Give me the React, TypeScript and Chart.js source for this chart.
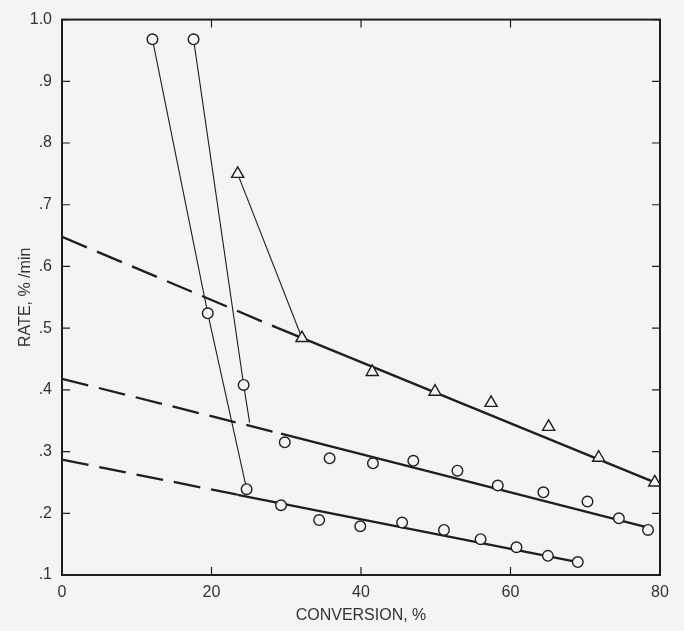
import React, { useEffect, useRef } from "react";
import { Chart, registerables } from "chart.js";

Chart.register(...registerables);

// Triangle series
const triX = [23.5, 32.1, 41.5, 49.9, 57.4, 65.1, 71.8, 79.3];
const triY = [0.75, 0.484, 0.429, 0.397, 0.379, 0.34, 0.29, 0.25];
// Middle circle series
const midX = [17.6, 24.3, 29.8, 35.8, 41.6, 47.0, 52.9, 58.3, 64.4, 70.3, 74.5, 78.4];
const midY = [0.968, 0.408, 0.315, 0.289, 0.281, 0.285, 0.269, 0.245, 0.234, 0.219, 0.192, 0.173];
// Lower circle series
const lowX = [12.1, 19.5, 24.7, 29.3, 34.4, 39.9, 45.5, 51.1, 56.0, 60.8, 65.0, 69.0];
const lowY = [0.968, 0.524, 0.239, 0.213, 0.189, 0.179, 0.185, 0.173, 0.158, 0.145, 0.131, 0.121];

// Fitted lines: [start, dash->solid break, end]
const topFitX = [0, 28.9, 79.3];
const topFitY = [0.648, 0.5, 0.25];
const midFitX = [0, 29.3, 78.3];
const midFitY = [0.418, 0.329, 0.177];
const lowFitX = [0, 23.5, 69.0];
const lowFitY = [0.287, 0.23, 0.121];

// Thin connectors (initial transients)
const triConnX = [23.5, 32.1];
const triConnY = [0.75, 0.484];
const midConnX = [17.6, 24.3, 25.1];
const midConnY = [0.968, 0.408, 0.347];
const lowConnX = [12.1, 19.5, 24.7];
const lowConnY = [0.968, 0.524, 0.239];

const xTicks = [0, 20, 40, 60, 80];
const yTicks = [0.1, 0.2, 0.3, 0.4, 0.5, 0.6, 0.7, 0.8, 0.9, 1.0];

const BG = "#f4f4f4";
const INK = "#1e1e1e";
const FONT = "'Liberation Sans', Arial, sans-serif";

const pts = (xs: number[], ys: number[]) => xs.map((x, i) => ({ x, y: ys[i] }));

const framePlugin = {
  id: "frame",
  afterDraw(chart: any) {
    const { ctx, chartArea: a, scales } = chart;
    ctx.save();
    ctx.strokeStyle = INK;
    ctx.lineWidth = 2;
    ctx.strokeRect(a.left, a.top, a.right - a.left, a.bottom - a.top);
    ctx.lineWidth = 1.2;
    const L = 8;
    ctx.beginPath();
    yTicks.forEach((v) => {
      const y = scales.y.getPixelForValue(v);
      ctx.moveTo(a.left, y);
      ctx.lineTo(a.left + L, y);
      ctx.moveTo(a.right, y);
      ctx.lineTo(a.right - L, y);
    });
    xTicks.forEach((v) => {
      const x = scales.x.getPixelForValue(v);
      ctx.moveTo(x, a.bottom);
      ctx.lineTo(x, a.bottom - L);
      ctx.moveTo(x, a.top);
      ctx.lineTo(x, a.top + L);
    });
    ctx.stroke();
    ctx.restore();
  },
};

export default function App() {
  const ref = useRef<HTMLCanvasElement>(null);
  useEffect(() => {
    if (!ref.current) return;
    const fitLine = (xs: number[], ys: number[]) => ({
      type: "line" as const,
      data: pts(xs, ys),
      borderColor: INK,
      borderWidth: 2.3,
      pointRadius: 0,
      showLine: true,
      order: 2,
      segment: {
        borderDash: (c: any) => (c.p0DataIndex === 0 ? [27, 11] : undefined),
      },
    });
    const thin = (xs: number[], ys: number[]) => ({
      type: "line" as const,
      data: pts(xs, ys),
      borderColor: INK,
      borderWidth: 1.1,
      pointRadius: 0,
      showLine: true,
      order: 3,
    });
    const marks = (xs: number[], ys: number[], style: string, r: number) => ({
      type: "scatter" as const,
      data: pts(xs, ys),
      pointStyle: style,
      pointRadius: r,
      pointBackgroundColor: BG,
      pointBorderColor: INK,
      pointBorderWidth: 1.4,
      showLine: false,
      order: 0,
    });
    const chart = new Chart(ref.current, {
      type: "scatter",
      data: {
        datasets: [
          marks(triX, triY, "triangle", 7),
          marks(midX, midY, "circle", 5.3),
          marks(lowX, lowY, "circle", 5.3),
          fitLine(topFitX, topFitY),
          fitLine(midFitX, midFitY),
          fitLine(lowFitX, lowFitY),
          thin(triConnX, triConnY),
          thin(midConnX, midConnY),
          thin(lowConnX, lowConnY),
        ] as any,
      },
      options: {
        animation: false,
        responsive: false,
        layout: { padding: { top: 17, right: 24, left: 0, bottom: 0 } },
        plugins: { legend: { display: false }, tooltip: { enabled: false } },
        scales: {
          x: {
            type: "linear",
            min: 0,
            max: 80,
            grid: { display: false, drawTicks: false },
            border: { display: false },
            afterFit: (s: any) => {
              s.height = 56;
            },
            afterBuildTicks: (s: any) => {
              s.ticks = xTicks.map((v) => ({ value: v }));
            },
            ticks: {
              padding: 8,
              color: "#333",
              font: { family: FONT, size: 16 },
              callback: (v: any) => String(v),
            },
            title: {
              display: true,
              text: "CONVERSION, %",
              color: "#333",
              font: { family: FONT, size: 16 },
              padding: { top: 4, bottom: 6 },
            },
          },
          y: {
            type: "linear",
            min: 0.1,
            max: 1.0,
            grid: { display: false, drawTicks: false },
            border: { display: false },
            afterFit: (s: any) => {
              s.width = 62;
            },
            afterBuildTicks: (s: any) => {
              s.ticks = yTicks.map((v) => ({ value: v }));
            },
            ticks: {
              padding: 10,
              color: "#333",
              font: { family: FONT, size: 16 },
              callback: (v: any) => (v >= 0.999 ? "1.0" : "." + Math.round(v * 10)),
            },
            title: {
              display: true,
              text: "RATE, % /min",
              color: "#333",
              font: { family: FONT, size: 16 },
              padding: { top: 16, bottom: 0 },
            },
          },
        },
      },
      plugins: [framePlugin],
    });
    return () => chart.destroy();
  }, []);
  return (
    <div style={{ position: "fixed", left: 0, top: 0, width: 684, height: 631, background: BG }}>
      <canvas ref={ref} width={684} height={631} style={{ display: "block" }} />
    </div>
  );
}
